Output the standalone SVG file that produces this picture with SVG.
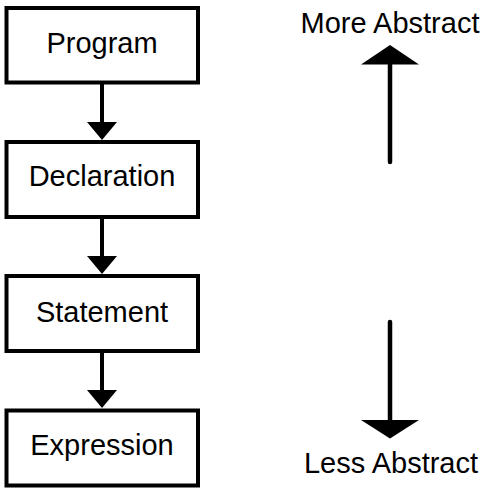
<svg xmlns="http://www.w3.org/2000/svg" width="484" height="488" viewBox="0 0 484 488">
<style>
.box{fill:#fff;stroke:#000;stroke-width:4}
.lbl{font-family:"Liberation Sans",Arial,sans-serif;font-size:29px;fill:#000;text-anchor:middle}
.shaft{stroke:#000;stroke-width:4;fill:none}
.big{stroke:#000;stroke-width:4.5;stroke-linecap:round;fill:none}
.head{fill:#000}
</style>
<rect width="484" height="488" fill="#fff"/>
<g id="connectors">
<line class="shaft" x1="102" y1="82" x2="102" y2="123"/>
<polygon class="head" points="87,122 117,122 102,140"/>
<line class="shaft" x1="102" y1="217" x2="102" y2="257"/>
<polygon class="head" points="87,256 117,256 102,274"/>
<line class="shaft" x1="102" y1="351" x2="102" y2="391"/>
<polygon class="head" points="87,390 117,390 102,408"/>
</g>
<g id="program"><rect class="box" x="6.5" y="8" width="191.5" height="74.5"/><text class="lbl" x="102" y="52.5">Program</text></g>
<g id="declaration"><rect class="box" x="6.5" y="142" width="191.5" height="75"/><text class="lbl" x="102" y="185.5">Declaration</text></g>
<g id="statement"><rect class="box" x="6.5" y="276" width="191.5" height="75"/><text class="lbl" x="102" y="321.5">Statement</text></g>
<g id="expression"><rect class="box" x="6.5" y="410.5" width="191.5" height="75"/><text class="lbl" x="102" y="455">Expression</text></g>
<g id="more-abstract">
<text class="lbl" x="390" y="33">More Abstract</text>
<line class="big" x1="390" y1="162" x2="390" y2="63"/>
<polygon class="head" points="361,64.5 419,64.5 390,45"/>
</g>
<g id="less-abstract">
<line class="big" x1="390" y1="322" x2="390" y2="421"/>
<polygon class="head" points="361,420 419,420 390,438.5"/>
<text class="lbl" x="391" y="473">Less Abstract</text>
</g>
</svg>
